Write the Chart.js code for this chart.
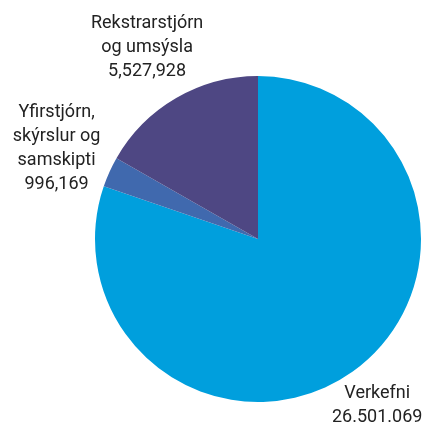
<!DOCTYPE html>
<html><head><meta charset="utf-8">
<script src="https://cdn.jsdelivr.net/npm/chart.js@4/dist/chart.umd.min.js"></script>
<style>html,body{margin:0;padding:0;background:#fff}#wrap{width:429px;height:423px}</style>
</head><body><div id="wrap"><canvas id="c" width="429" height="423"></canvas></div>
<script>
const categories = ["Verkefni", "Yfirstjórn, skýrslur og samskipti", "Rekstrarstjórn og umsýsla"];
const values = [26501069, 996169, 5527928];
const labelLines = [["Verkefni", "26.501.069"], ["Yfirstjórn,", "skýrslur og", "samskipti", "996,169"], ["Rekstrarstjórn", "og umsýsla", "5,527,928"]];
const colors = ["#009FDD", "#4069AE", "#4E4783"];

const labelPlugin = {
  id: 'outLabels',
  afterDraw(chart) {
    const ctx = chart.ctx;
    const meta = chart.getDatasetMeta(0);
    const extra = [42, 58, 58];
    const lh = 24;
    ctx.save();
    ctx.font = '18px Roboto, sans-serif';
    ctx.fillStyle = '#222';
    ctx.textAlign = 'center';
    ctx.textBaseline = 'middle';
    meta.data.forEach((arc, i) => {
      const p = arc.getProps(['x','y','startAngle','endAngle','outerRadius'], true);
      const mid = (p.startAngle + p.endAngle) / 2;
      const d = p.outerRadius + extra[i];
      const cx = p.x + Math.cos(mid) * d;
      const cy = p.y + Math.sin(mid) * d;
      const lines = labelLines[i];
      const y0 = cy - (lines.length - 1) * lh / 2;
      lines.forEach((t, k) => ctx.fillText(t, cx, y0 + k * lh));
    });
    ctx.restore();
  }
};

new Chart(document.getElementById('c'), {
  type: 'pie',
  data: { labels: categories, datasets: [{ data: values, backgroundColor: colors, borderWidth: 0 }] },
  options: {
    responsive: false, animation: false,
    layout: { padding: { left: 95, right: 8, top: 76, bottom: 21 } },
    plugins: { legend: { display: false }, tooltip: { enabled: false } }
  },
  plugins: [labelPlugin]
});
</script></body></html>
